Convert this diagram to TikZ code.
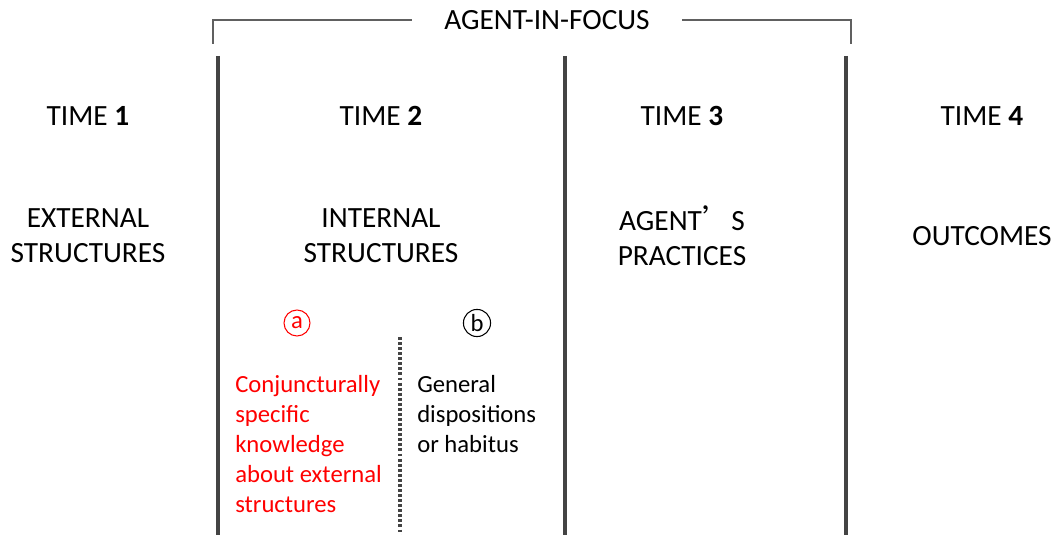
\documentclass[tikz,border=0pt]{standalone}
\usepackage{fontspec}
\setmainfont{Carlito}
\newfontfamily\cjk{Noto Sans CJK SC}
\usetikzlibrary{positioning}
\definecolor{cline}{HTML}{444444}
\definecolor{cred}{HTML}{FF0000}
\tikzset{
  every picture/.style={x=0.75pt, y=-0.75pt},
  label/.style={font=\fontsize{22}{26.5}\selectfont, align=center, inner sep=0pt},
  divider/.style={draw=cline, line width=2.6pt},
  bracket/.style={draw=cline!85, line width=1.2pt},
  badge/.style={circle, draw=#1, text=#1, line width=0.8pt, inner sep=1.5pt, minimum size=19.5pt, font=\fontsize{18.5}{20}\selectfont},
  detail/.style={font=\fontsize{18.5}{22.5}\selectfont, align=left, inner sep=0pt, anchor=north west},
}

\begin{document}
\begin{tikzpicture}
  \useasboundingbox (0,0) rectangle (1054,535);
  % bracket over times 2 and 3
  \node[label, inner xsep=24pt] (focus) at (547,20) {AGENT-IN-FOCUS};
  \draw[bracket] (213,44) |- (focus.west);
  \draw[bracket] (851,44) |- (focus.east);
  % column dividers
  \foreach \x in {218, 565, 846} {
    \draw[divider] (\x,56) -- (\x,535);
  }
  \draw[cline, line width=2.4pt, dash pattern=on 2.2pt off 1.6pt] (400,337) -- (400,535);
  % time headings
  \node[label] (t1) at (88,116) {TIME \textbf{1}};
  \node[label] (t2) at (381,116) {TIME \textbf{2}};
  \node[label] (t3) at (682,116) {TIME \textbf{3}};
  \node[label] (t4) at (982,116) {TIME \textbf{4}};
  % what each time holds
  \node[label] (ext) at (88,236) {EXTERNAL\\STRUCTURES};
  \node[label] (int) at (381,236) {INTERNAL\\STRUCTURES};
  \node[label] (prac) at (682,236) {AGENT{\cjk ’}S\\PRACTICES};
  \node[label] (out) at (982,236) {OUTCOMES};
  % the two parts of internal structures
  \node[badge=cred] (a) at (297,323) {a};
  \node[badge=black] (b) at (477,323) {b};
  \node[detail, text=cred] (know) at (235,375) {Conjuncturally\\specific\\knowledge\\about external\\structures};
  \node[detail] (habit) at (417,375) {General\\dispositions\\or habitus};
\end{tikzpicture}
\end{document}
